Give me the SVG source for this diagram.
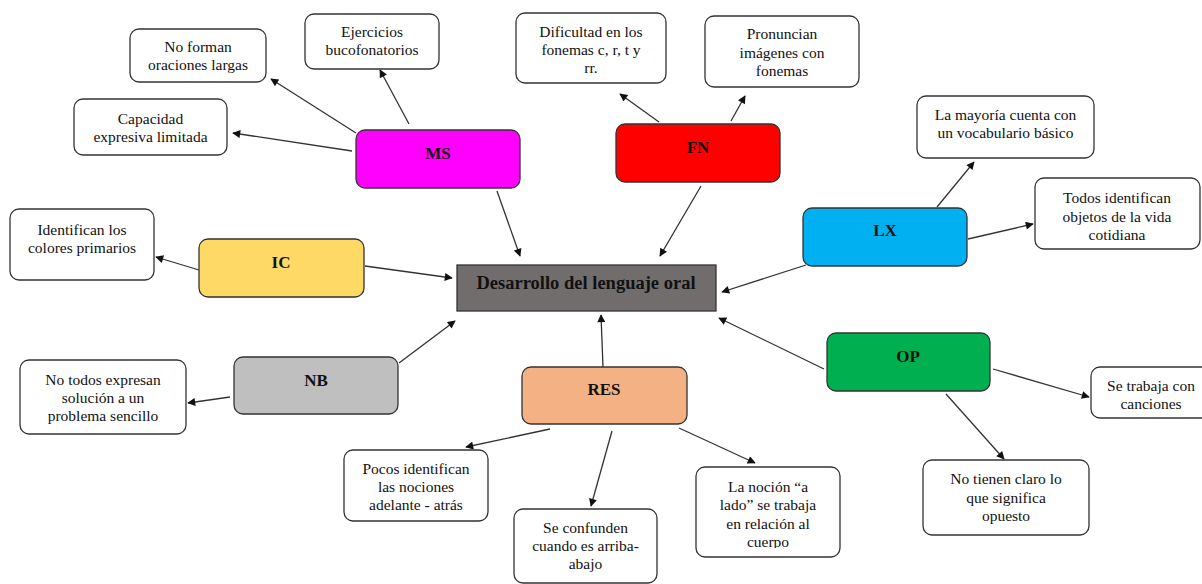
<svg xmlns="http://www.w3.org/2000/svg" width="1202" height="584" viewBox="0 0 1202 584">
<style>
.box{fill:#fff;stroke:#333;stroke-width:1.3}
.node{stroke:#333;stroke-width:1.3}
.t{font-family:"Liberation Serif","Times New Roman",serif;font-size:15.5px;fill:#111;text-anchor:middle}
.b{font-family:"Liberation Serif","Times New Roman",serif;font-size:17px;font-weight:bold;fill:#111;text-anchor:middle}
.c{font-family:"Liberation Serif","Times New Roman",serif;font-size:18.5px;font-weight:bold;fill:#111;text-anchor:middle}
.ln{stroke:#333;stroke-width:1.3;fill:none;marker-end:url(#ah)}
</style>
<defs>
<marker id="ah" viewBox="0 0 10 10" refX="9" refY="5" markerWidth="10" markerHeight="8" markerUnits="userSpaceOnUse" orient="auto">
<path d="M0,0 L10,5 L0,10 z" fill="#111"/>
</marker>
<clipPath id="clipNocion"><rect x="696" y="467" width="144" height="81"/></clipPath>
</defs>
<rect width="1202" height="584" fill="#fff"/>

<g id="connectors">
<line class="ln" x1="352" y1="151" x2="233" y2="133"/>
<line class="ln" x1="356" y1="133" x2="271" y2="79"/>
<line class="ln" x1="409" y1="124" x2="380" y2="70"/>
<line class="ln" x1="497" y1="191" x2="520" y2="256"/>
<line class="ln" x1="199" y1="270" x2="156" y2="257"/>
<line class="ln" x1="365" y1="266" x2="452" y2="278"/>
<line class="ln" x1="659" y1="122" x2="620" y2="94"/>
<line class="ln" x1="731" y1="121" x2="745" y2="96"/>
<line class="ln" x1="701" y1="186" x2="660" y2="256"/>
<line class="ln" x1="937" y1="207" x2="974" y2="162"/>
<line class="ln" x1="968" y1="239" x2="1033" y2="224"/>
<line class="ln" x1="806" y1="265" x2="722" y2="292"/>
<line class="ln" x1="230" y1="397" x2="188" y2="403"/>
<line class="ln" x1="399" y1="363" x2="455" y2="321"/>
<line class="ln" x1="603" y1="367" x2="601" y2="315"/>
<line class="ln" x1="550" y1="429" x2="466" y2="447"/>
<line class="ln" x1="612" y1="431" x2="591" y2="506"/>
<line class="ln" x1="679" y1="428" x2="755" y2="463"/>
<line class="ln" x1="824" y1="369" x2="719" y2="318"/>
<line class="ln" x1="993" y1="369" x2="1089" y2="397"/>
<line class="ln" x1="946" y1="394" x2="1004" y2="459"/>
</g>

<g id="center">
<rect x="457" y="265" width="259" height="46" fill="#726d6d" stroke="#333" stroke-width="1.3"/>
<text class="c" x="586" y="289">Desarrollo del lenguaje oral</text>
</g>

<g id="ms">
<rect class="node" x="356" y="130" width="164" height="58" rx="9" fill="#ff00ff"/>
<text class="b" x="438" y="159">MS</text>
</g>
<g id="fn">
<rect class="node" x="616" y="124" width="164" height="58" rx="9" fill="#ff0000"/>
<text class="b" x="698" y="153">FN</text>
</g>
<g id="lx">
<rect class="node" x="803" y="208" width="164" height="58" rx="9" fill="#00b0f0"/>
<text class="b" x="885" y="236">LX</text>
</g>
<g id="ic">
<rect class="node" x="199" y="239" width="165" height="58" rx="9" fill="#ffd966"/>
<text class="b" x="281" y="268">IC</text>
</g>
<g id="nb">
<rect class="node" x="234" y="357" width="164" height="57" rx="9" fill="#bfbfbf"/>
<text class="b" x="316" y="386">NB</text>
</g>
<g id="res">
<rect class="node" x="522" y="367" width="165" height="57" rx="9" fill="#f4b183"/>
<text class="b" x="604" y="395">RES</text>
</g>
<g id="op">
<rect class="node" x="827" y="333" width="163" height="58" rx="9" fill="#00b050"/>
<text class="b" x="908" y="362">OP</text>
</g>

<g id="ejercicios">
<rect class="box" x="305" y="14" width="134" height="55" rx="9"/>
<text class="t" x="372" y="37">Ejercicios</text>
<text class="t" x="372" y="55">bucofonatorios</text>
</g>
<g id="noforman">
<rect class="box" x="130" y="29" width="136" height="53" rx="9"/>
<text class="t" x="198" y="52">No forman</text>
<text class="t" x="198" y="70">oraciones largas</text>
</g>
<g id="capacidad">
<rect class="box" x="74" y="99" width="153" height="56" rx="9"/>
<text class="t" x="150.5" y="124">Capacidad</text>
<text class="t" x="150.5" y="142">expresiva limitada</text>
</g>
<g id="identifican">
<rect class="box" x="10" y="209" width="144" height="71" rx="9"/>
<text class="t" x="82" y="235">Identifican los</text>
<text class="t" x="82" y="253">colores primarios</text>
</g>
<g id="dificultad">
<rect class="box" x="516" y="13" width="150" height="70" rx="9"/>
<text class="t" x="591" y="37">Dificultad en los</text>
<text class="t" x="591" y="55">fonemas c, r, t y</text>
<text class="t" x="591" y="73">rr.</text>
</g>
<g id="pronuncian">
<rect class="box" x="705" y="16" width="154" height="71" rx="9"/>
<text class="t" x="782" y="39">Pronuncian</text>
<text class="t" x="782" y="58">imágenes con</text>
<text class="t" x="782" y="76">fonemas</text>
</g>
<g id="mayoria">
<rect class="box" x="917" y="96" width="177" height="62" rx="9"/>
<text class="t" x="1005.5" y="120">La mayoría cuenta con</text>
<text class="t" x="1005.5" y="138">un vocabulario básico</text>
</g>
<g id="todos">
<rect class="box" x="1035" y="178" width="165" height="71" rx="9"/>
<text class="t" x="1117" y="203">Todos identifican</text>
<text class="t" x="1117" y="222">objetos de la vida</text>
<text class="t" x="1117" y="240">cotidiana</text>
</g>
<g id="notodos">
<rect class="box" x="20" y="360" width="166" height="74" rx="9"/>
<text class="t" x="103" y="385">No todos expresan</text>
<text class="t" x="103" y="403">solución a un</text>
<text class="t" x="103" y="421">problema sencillo</text>
</g>
<g id="pocos">
<rect class="box" x="344" y="450" width="144" height="71" rx="9"/>
<text class="t" x="416" y="474">Pocos identifican</text>
<text class="t" x="416" y="492">las nociones</text>
<text class="t" x="416" y="510">adelante - atrás</text>
</g>
<g id="confunden">
<rect class="box" x="514" y="509" width="143" height="74" rx="9"/>
<text class="t" x="585.5" y="533">Se confunden</text>
<text class="t" x="585.5" y="551">cuando es arriba-</text>
<text class="t" x="585.5" y="569">abajo</text>
</g>
<g id="nocion">
<rect class="box" x="696" y="467" width="144" height="90" rx="9"/>
<g clip-path="url(#clipNocion)">
<text class="t" x="768" y="492">La noción “a</text>
<text class="t" x="768" y="510">lado” se trabaja</text>
<text class="t" x="768" y="529">en relación al</text>
<text class="t" x="768" y="547">cuerpo</text>
</g>
</g>
<g id="notienen">
<rect class="box" x="923" y="460" width="166" height="75" rx="9"/>
<text class="t" x="1006" y="484">No tienen claro lo</text>
<text class="t" x="1006" y="503">que significa</text>
<text class="t" x="1006" y="521">opuesto</text>
</g>
<g id="setrabaja">
<rect class="box" x="1091" y="367" width="130" height="51" rx="9"/>
<text class="t" x="1151" y="391">Se trabaja con</text>
<text class="t" x="1151" y="409">canciones</text>
</g>
</svg>
